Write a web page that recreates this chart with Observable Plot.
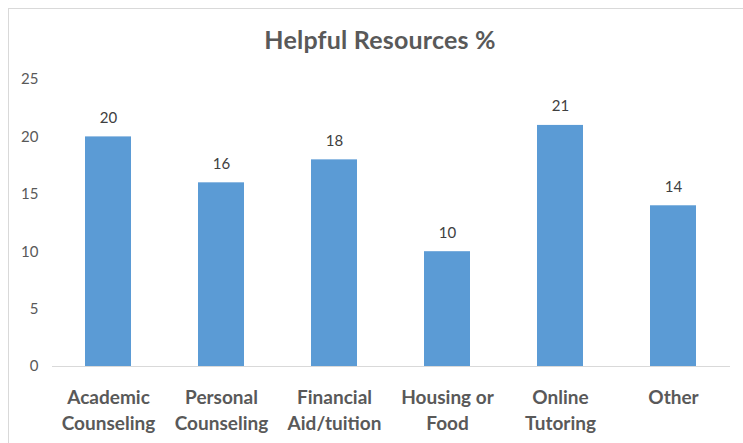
<!DOCTYPE html>
<html>
<head>
<meta charset="utf-8">
<script src="https://cdn.jsdelivr.net/npm/d3@7"></script>
<script src="https://cdn.jsdelivr.net/npm/@observablehq/plot@0.6"></script>
<style>
  html, body { margin: 0; padding: 0; background: #fff; }
  #wrap { position: relative; width: 743px; height: 443px; overflow: hidden; font-family: Lato, "Open Sans", sans-serif; }
  #frame { position: absolute; left: 8px; top: 8px; width: 740px; height: 440px; border-left: 1px solid #d9d9d9; border-top: 1px solid #d9d9d9; }
  #title { position: absolute; left: 0; width: 760px; top: 24px; text-align: center; font-size: 25px; letter-spacing: 0.2px; font-weight: bold; color: #595959; }
  #chart { position: absolute; left: 0; top: 0; }
</style>
</head>
<body>
<div id="wrap">
  <div id="frame"></div>
  <div id="chart"></div>
  <div id="title">Helpful Resources %</div>
</div>
<script>
const categories = ["Academic\nCounseling", "Personal\nCounseling", "Financial\nAid/tuition", "Housing or\nFood", "Online\nTutoring", "Other"];
const values = [20, 16, 18, 10, 21, 14];
const yTicks = [0, 5, 10, 15, 20, 25];

const data = categories.map((c, i) => ({category: c, value: values[i]}));

const chart = Plot.plot({
  width: 743,
  height: 443,
  marginTop: 79,
  marginBottom: 77,
  marginLeft: 52,
  marginRight: 13,
  style: {background: "transparent", fontFamily: "Lato, 'Open Sans', sans-serif"},
  x: {domain: categories, paddingInner: 0.59, paddingOuter: 0.295},
  y: {domain: [0, 25]},
  marks: [
    Plot.barY(data, {x: "category", y: "value", fill: "#5b9bd5"}),
    Plot.ruleY([0], {stroke: "#d9d9d9", strokeWidth: 1}),
    Plot.text(data, {x: "category", y: "value", text: d => String(d.value), dy: -19, fontSize: 15, fill: "#404040"}),
    Plot.axisY({ticks: yTicks, tickSize: 0, tickPadding: 14, fontSize: 15, color: "#595959", label: null}),
    Plot.axisX({tickSize: 0, tickPadding: 19, fontSize: 19, fontWeight: "bold", color: "#595959", lineHeight: 1.37, label: null})
  ]
});
document.getElementById("chart").appendChild(chart);
</script>
</body>
</html>
